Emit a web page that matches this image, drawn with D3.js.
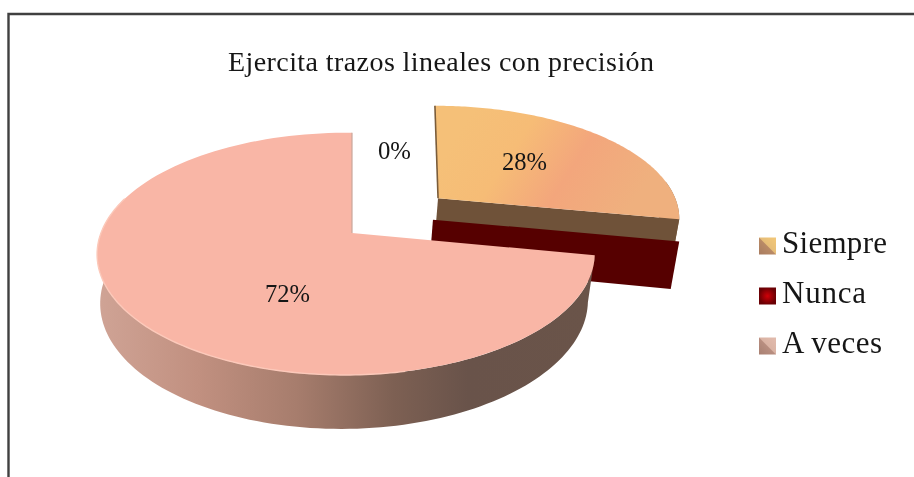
<!DOCTYPE html>
<html>
<head>
<meta charset="utf-8">
<script src="https://cdn.jsdelivr.net/npm/d3@7"></script>
<style>
  html, body { margin: 0; padding: 0; background: #ffffff; }
  svg { display: block; filter: blur(0.4px); }
  text { font-family: "Liberation Serif", serif; fill: #161616; }
</style>
</head>
<body>
<div id="chart"></div>
<script>
var chartTitle = "Ejercita trazos lineales con precisión";
var categories = ["Siempre", "Nunca", "A veces"];
var values = [28, 0, 72];
var valueLabels = ["28%", "0%", "72%"];

var w = 914, h = 477;
var cx = 352, cy = 233;
var R = 245, Ry = 117.5, H = 47;
var k = 0.172;

// how far each slice is pulled out of the pie and how it is skewed
var pieces = [
  { ou: 0.37, ov: -0.311, r: 1.02, shear: 0.045, m: 0 },
  { ou: 0.337, ov: -0.116, r: 1, shear: 0, m: 0 },
  { ou: 0, ov: 0, r: 1, shear: 0, m: 0.024 }
];

var svg = d3.select("#chart").append("svg")
  .attr("width", w)
  .attr("height", h);

var defs = svg.append("defs");

function addGradient(id, x1, y1, x2, y2, stops, units) {
  var g = defs.append("linearGradient")
    .attr("id", id)
    .attr("gradientUnits", units || "userSpaceOnUse")
    .attr("x1", x1).attr("y1", y1)
    .attr("x2", x2).attr("y2", y2);
  stops.forEach(function(s) {
    g.append("stop").attr("offset", s[0]).attr("stop-color", s[1]);
  });
}

addGradient("wallGrad", 100, 0, 590, 0, [
  [0, "#cfa395"], [0.2, "#c19080"], [0.4, "#a77d6d"],
  [0.6, "#7d6053"], [0.75, "#69534a"], [1, "#6a5449"]
]);
addGradient("siempreGrad", 470, 115, 625, 215, [
  [0, "#f5c078"], [0.3, "#f6bc76"], [0.62, "#f3a67c"], [1, "#efb07e"]
]);
addGradient("legSiempre", 1, 0, 0, 1, [
  [0, "#f3c878"], [0.48, "#e6bd78"], [0.52, "#b98a66"], [1, "#a87c60"]
], "objectBoundingBox");
addGradient("legVeces", 1, 0, 0, 1, [
  [0, "#e2bcae"], [0.48, "#dab3a4"], [0.52, "#b88e80"], [1, "#a88072"]
], "objectBoundingBox");
var rg = defs.append("radialGradient").attr("id", "legNunca");
rg.append("stop").attr("offset", 0).attr("stop-color", "#d00008");
rg.append("stop").attr("offset", 1).attr("stop-color", "#6a0004");

// perspective view of the pie disc: u, v on the disc, z 0 = top and 1 = base
function project(p, u, v, z) {
  var s = 1 / (1 - k * v + p.m * u);
  var zf = 1 - 0.02 * z;
  return [
    cx + R * u * s * zf - 2 * z,
    cy + Ry * v * s * zf + H * z * s
  ];
}

function rim(p, a, z) {
  var u = p.ou + p.r * Math.sin(a);
  var v = p.ov - p.r * Math.cos(a);
  return project(p, u - p.shear * (v - p.ov), v, z);
}

function apex(p, z) {
  return project(p, p.ou, p.ov, z);
}

function arcPoints(p, a0, a1, z) {
  return d3.range(0, 121).map(function(i) {
    return rim(p, a0 + (a1 - a0) * i / 120, z);
  });
}

var line = d3.line();
var slices = d3.pie().sort(null).value(function(d) { return d; })(values);

// frame, only top and left sides are in the picture
svg.append("path")
  .attr("d", line([[8.5, h + 4], [8.5, 14], [w + 4, 14]]))
  .attr("fill", "none")
  .attr("stroke", "#404040")
  .attr("stroke-width", 2.4);

svg.append("text")
  .attr("x", 228)
  .attr("y", 71)
  .attr("font-size", 28)
  .attr("textLength", 426)
  .attr("lengthAdjust", "spacing")
  .text(chartTitle);

// Siempre: outer wall, cut face, top
var sS = slices[0], pS = pieces[0];
svg.append("path")
  .attr("d", line(arcPoints(pS, sS.endAngle - 0.35, sS.endAngle, 0)
    .concat(arcPoints(pS, sS.endAngle, sS.endAngle - 0.35, 1))) + "Z")
  .attr("fill", "#8a6a4c");
svg.append("path")
  .attr("d", line([apex(pS, 0), rim(pS, sS.endAngle, 0), rim(pS, sS.endAngle, 1), apex(pS, 1)]) + "Z")
  .attr("fill", "#6f5239");
svg.append("path")
  .attr("d", line([apex(pS, 0)].concat(arcPoints(pS, sS.startAngle, sS.endAngle, 0))) + "Z")
  .attr("fill", "url(#siempreGrad)");
svg.append("path")
  .attr("d", line([apex(pS, 0), rim(pS, sS.startAngle, 0)]))
  .attr("fill", "none")
  .attr("stroke", "#7a5c3a")
  .attr("stroke-width", 1.6);

// Nunca has no width, only its cut face shows
var sN = slices[1], pN = pieces[1];
svg.append("path")
  .attr("d", line([apex(pN, 0), rim(pN, sN.startAngle, 0), rim(pN, sN.startAngle, 1), apex(pN, 1)]) + "Z")
  .attr("fill", "#560000");

// A veces
var sV = slices[2], pV = pieces[2];
var wallEnd = sV.startAngle + (sV.endAngle - sV.startAngle) * 0.72;
svg.append("path")
  .attr("d", line(arcPoints(pV, sV.startAngle, wallEnd, 0)
    .concat(arcPoints(pV, wallEnd, sV.startAngle, 1))) + "Z")
  .attr("fill", "url(#wallGrad)");
svg.append("path")
  .attr("d", line([apex(pV, 0)].concat(arcPoints(pV, sV.startAngle, sV.endAngle, 0))) + "Z")
  .attr("fill", "#f9b6a6");
svg.append("path")
  .attr("d", line(arcPoints(pV, sV.startAngle + 1.2, wallEnd, 0)))
  .attr("fill", "none")
  .attr("stroke", "#fcc9ba")
  .attr("stroke-width", 1.4);
svg.append("path")
  .attr("d", line([apex(pV, 0), rim(pV, sV.endAngle, 0)]))
  .attr("fill", "none")
  .attr("stroke", "#c9a79c")
  .attr("stroke-width", 1.2);

// value labels
var labelXY = [[524.5, 170], [394.5, 159], [287.5, 302]];
var labelWidth = [45, 33, 45];
svg.selectAll("text.value")
  .data(valueLabels)
  .enter().append("text")
  .attr("class", "value")
  .attr("x", function(d, i) { return labelXY[i][0]; })
  .attr("y", function(d, i) { return labelXY[i][1]; })
  .attr("text-anchor", "middle")
  .attr("font-size", 26)
  .attr("textLength", function(d, i) { return labelWidth[i]; })
  .attr("lengthAdjust", "spacingAndGlyphs")
  .text(function(d) { return d; });

// legend
var legendY = d3.scalePoint().domain(categories).range([245.5, 345.5]);
var legendFill = ["url(#legSiempre)", "url(#legNunca)", "url(#legVeces)"];
var legendWidth = [105, 84, 100];

var legend = svg.selectAll("g.legend")
  .data(categories)
  .enter().append("g")
  .attr("class", "legend")
  .attr("transform", function(d) { return "translate(0," + legendY(d) + ")"; });

legend.append("rect")
  .attr("x", 759)
  .attr("y", -8)
  .attr("width", 17)
  .attr("height", 17)
  .attr("fill", function(d, i) { return legendFill[i]; });

legend.append("text")
  .attr("x", 782)
  .attr("y", 7.5)
  .attr("font-size", 31)
  .attr("textLength", function(d, i) { return legendWidth[i]; })
  .attr("lengthAdjust", "spacing")
  .text(function(d) { return d; });
</script>
</body>
</html>
